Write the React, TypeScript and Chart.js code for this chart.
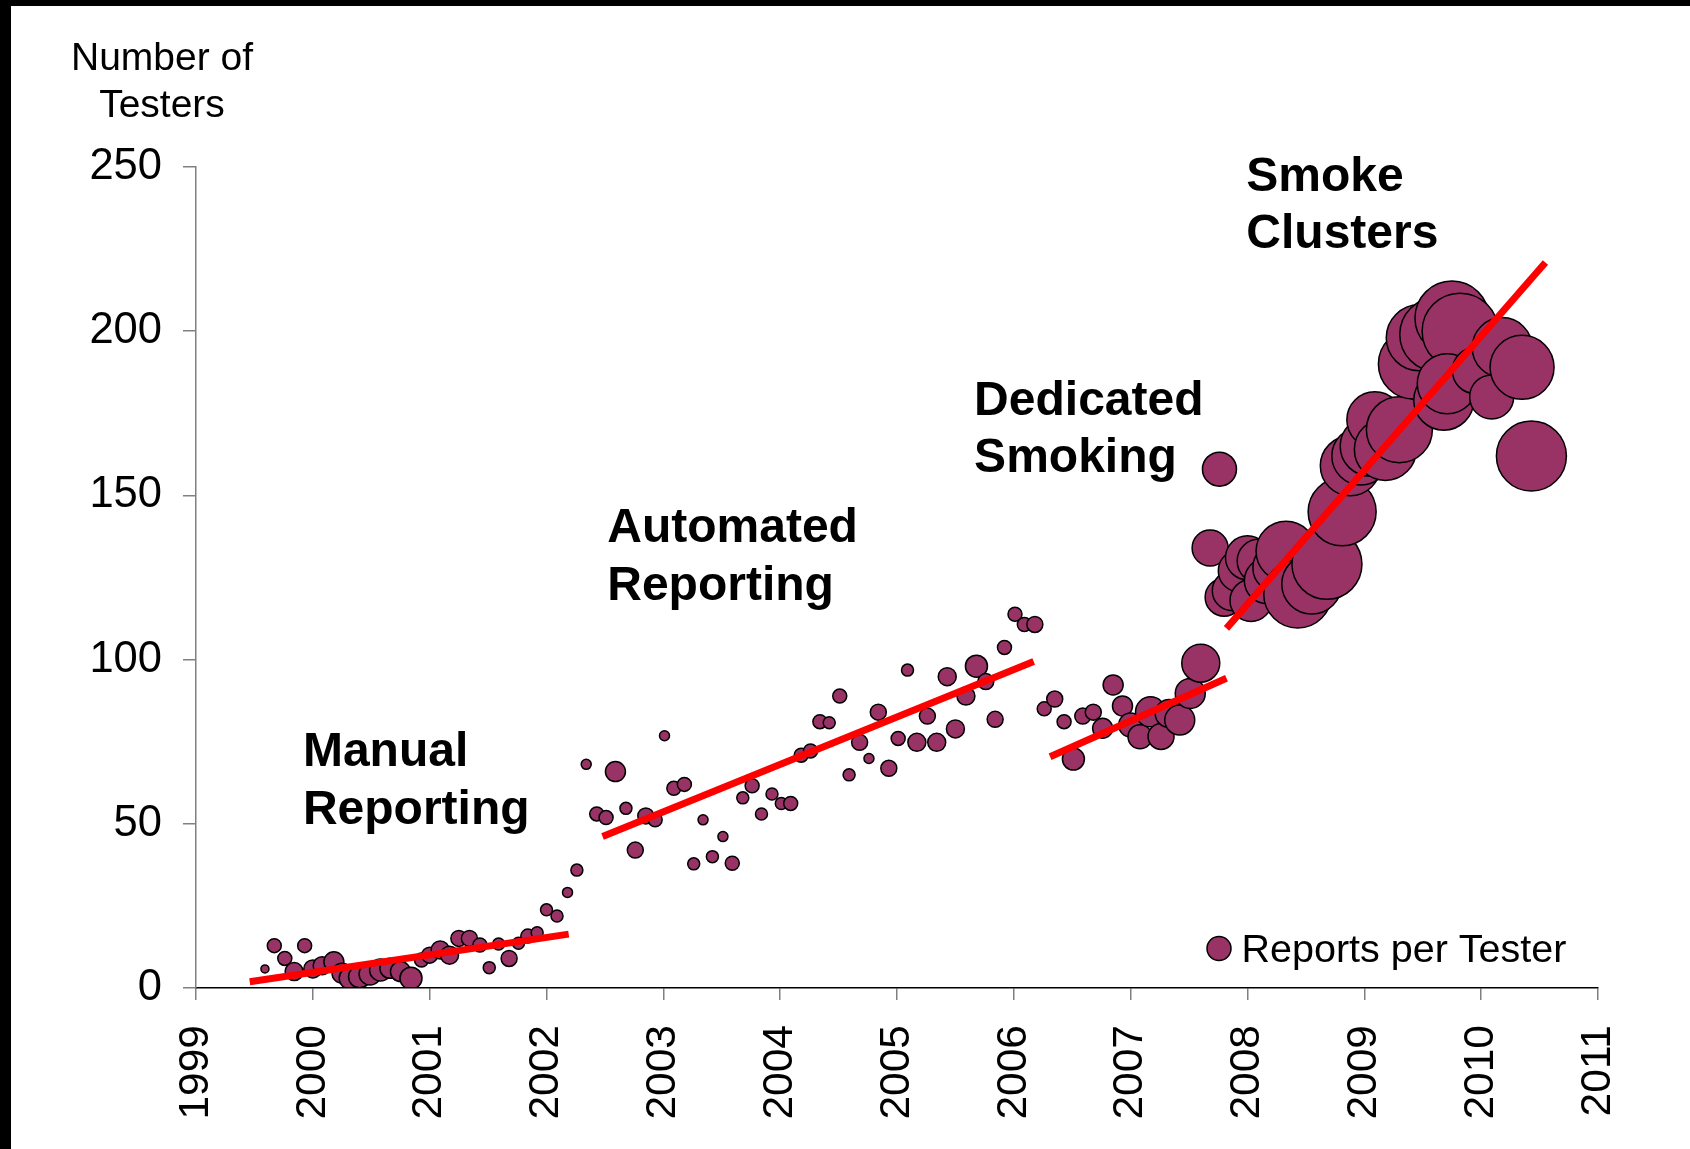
import React, { useEffect, useRef } from "react";
import { Chart, registerables } from "chart.js";

Chart.register(...registerables);

const FONT = "'Liberation Sans', Arial, Helvetica, sans-serif";
const BUBBLE_COLOR = "#993366";

// ---- axis ticks ----
const xTickYears = [1999, 2000, 2001, 2002, 2003, 2004, 2005, 2006, 2007, 2008, 2009, 2010, 2011];
const yTickValues = [0, 50, 100, 150, 200, 250];

// ---- Manual Reporting phase ----
const manualYears = [1999.59, 1999.67, 1999.76, 1999.84, 1999.93, 2000.0, 2000.08, 2000.18, 2000.25, 2000.32, 2000.4, 2000.49, 2000.58, 2000.66, 2000.75, 2000.84, 2000.93, 2001.0, 2001.09, 2001.17, 2001.25, 2001.34, 2001.43, 2001.51, 2001.59, 2001.68, 2001.76, 2001.84, 2001.92, 2002.0, 2002.09, 2002.18, 2002.26];
const manualTesters = [5.8, 12.9, 9.0, 5.0, 12.9, 5.8, 6.8, 8.0, 4.5, 3.0, 3.4, 4.3, 5.5, 6.0, 5.0, 3.0, 8.5, 10.0, 11.6, 10.0, 15.1, 15.1, 13.1, 6.2, 13.4, 9.0, 13.6, 15.8, 16.8, 23.8, 21.9, 29.1, 35.9];
const manualSize = [4, 7, 7, 9, 7, 9, 9, 10, 10, 11, 11, 11, 11, 10, 10, 11, 7, 8, 9, 9, 8, 8, 7, 6, 6, 8, 6, 7, 6, 6, 6, 5, 6];

// ---- Automated Reporting phase ----
const automatedYears = [2002.34, 2002.43, 2002.51, 2002.59, 2002.68, 2002.76, 2002.85, 2002.93, 2003.01, 2003.09, 2003.18, 2003.26, 2003.34, 2003.42, 2003.51, 2003.59, 2003.68, 2003.76, 2003.84, 2003.93, 2004.01, 2004.09, 2004.18, 2004.26, 2004.34, 2004.42, 2004.51, 2004.59, 2004.68, 2004.76, 2004.84, 2004.93, 2005.01, 2005.09, 2005.17, 2005.26, 2005.34, 2005.43, 2005.5, 2005.59, 2005.68, 2005.76, 2005.84, 2005.92, 2006.01, 2006.09, 2006.18];
const automatedTesters = [68.1, 53.0, 51.9, 65.9, 54.7, 42.0, 52.4, 51.2, 76.8, 60.8, 62.0, 37.8, 51.2, 40.0, 46.1, 38.0, 57.9, 61.6, 53.0, 59.1, 56.2, 56.2, 70.9, 72.2, 81.1, 80.8, 88.9, 64.9, 74.8, 69.9, 84.0, 66.9, 76.0, 96.8, 74.8, 82.8, 74.8, 94.8, 78.9, 88.9, 98.0, 93.3, 81.8, 103.7, 113.8, 110.7, 110.7];
const automatedSize = [5, 7, 7, 10, 6, 8, 8, 7, 5, 7, 7, 6, 5, 6, 5, 7, 6, 7, 6, 6, 6, 7, 7, 7, 7, 6, 7, 6, 8, 5, 8, 8, 7, 6, 9, 8, 9, 9, 9, 9, 11, 8, 8, 7, 7, 7, 8];

// ---- Dedicated Smoking phase ----
const dedicatedYears = [2006.26, 2006.35, 2006.43, 2006.51, 2006.59, 2006.68, 2006.76, 2006.85, 2006.93, 2007.0, 2007.08, 2007.17, 2007.26, 2007.33, 2007.42, 2007.51, 2007.6];
const dedicatedTesters = [85.0, 88.0, 81.1, 69.7, 82.8, 84.0, 79.1, 92.3, 85.9, 80.1, 76.5, 84.1, 76.6, 83.6, 81.6, 89.7, 98.9];
const dedicatedSize = [7, 8, 7, 11, 8, 8, 10, 10, 10, 12, 12, 15, 13, 14, 15, 15, 19];

// ---- Smoke Clusters phase ----
const smokeYears = [2007.68, 2007.76, 2007.8, 2007.87, 2007.93, 2008.0, 2008.03, 2008.1, 2008.17, 2008.26, 2008.33, 2008.43, 2008.55, 2008.68, 2008.81, 2008.88, 2008.97, 2009.05, 2009.09, 2009.18, 2009.3, 2009.42, 2009.47, 2009.62, 2009.68, 2009.75, 2009.82, 2009.71, 2009.95, 2010.09, 2010.18, 2010.35, 2010.43];
const smokeTesters = [134, 158, 119, 121, 127, 131, 118, 130, 124, 128, 133, 120, 123, 129, 145, 159, 162, 165, 173, 164, 170, 190, 198, 199, 179, 204, 200, 184, 188, 180, 195, 189, 162];
const smokeSize = [18, 17, 19, 20, 21, 22, 21, 22, 23, 25, 30, 34, 30, 35, 34, 30, 29, 30, 28, 31, 33, 35, 33, 37, 30, 37, 38, 30, 23, 22, 30, 32, 35];

// ---- trend lines (one per phase) ----
const trendStartYear = [1999.46, 2002.48, 2006.31, 2007.82];
const trendEndYear = [2002.19, 2006.17, 2007.82, 2010.55];
const trendStartValue = [1.9, 46.1, 70.4, 109.5];
const trendEndValue = [16.4, 99.4, 94.3, 220.9];

// ---- texts ----
const axisTitleLines = ["Number of", "Testers"];
const legendLabel = "Reports per Tester";
const phaseNames = [
  ["Manual", "Reporting"],
  ["Automated", "Reporting"],
  ["Dedicated", "Smoking"],
  ["Smoke", "Clusters"],
];
const phaseLabelYear = [1999.915, 2002.52, 2005.66, 2007.99];
const phaseLabelValue = [67.6, 135.8, 174.5, 242.7];

function toBubbles(years: number[], testers: number[], sizes: number[]) {
  return years.map((x, i) => ({ x, y: testers[i], r: sizes[i] }));
}

const framePlugin = {
  id: "frame",
  beforeDraw(chart: any) {
    const { ctx, width, height } = chart;
    ctx.save();
    ctx.fillStyle = "#ffffff";
    ctx.fillRect(0, 0, width, height);
    ctx.fillStyle = "#000000";
    ctx.fillRect(0, 0, width, 6);
    ctx.fillRect(0, 0, 11, height);
    ctx.restore();
  },
};

const textPlugin = {
  id: "chartText",
  afterDraw(chart: any) {
    const { ctx, chartArea, scales } = chart;
    const xs = scales.x;
    const ys = scales.y;
    ctx.save();
    ctx.fillStyle = "#000";
    ctx.textBaseline = "alphabetic";

    // y axis title
    ctx.font = `39px ${FONT}`;
    ctx.textAlign = "center";
    const titleX = chartArea.left - 34;
    ctx.fillText(axisTitleLines[0], titleX, chartArea.top - 97);
    ctx.fillText(axisTitleLines[1], titleX, chartArea.top - 50);

    // phase labels
    ctx.font = `bold 48px ${FONT}`;
    ctx.textAlign = "left";
    phaseNames.forEach((lines, i) => {
      const px = xs.getPixelForValue(phaseLabelYear[i]);
      const py = ys.getPixelForValue(phaseLabelValue[i]);
      lines.forEach((t, j) => ctx.fillText(t, px, py + j * 57.5));
    });

    // legend
    const lx = chartArea.right - 379;
    const ly = chartArea.bottom - 39.5;
    ctx.beginPath();
    ctx.arc(lx, ly, 12, 0, Math.PI * 2);
    ctx.fillStyle = BUBBLE_COLOR;
    ctx.fill();
    ctx.lineWidth = 1.5;
    ctx.strokeStyle = "#000";
    ctx.stroke();
    ctx.fillStyle = "#000";
    ctx.font = `39.5px ${FONT}`;
    ctx.textAlign = "left";
    ctx.fillText(legendLabel, lx + 22.5, chartArea.bottom - 26);
    ctx.restore();
  },
};

export default function App() {
  const canvasRef = useRef<HTMLCanvasElement | null>(null);

  useEffect(() => {
    if (!canvasRef.current) return;
    const bubbleData = [
      ...toBubbles(manualYears, manualTesters, manualSize),
      ...toBubbles(automatedYears, automatedTesters, automatedSize),
      ...toBubbles(dedicatedYears, dedicatedTesters, dedicatedSize),
      ...toBubbles(smokeYears, smokeTesters, smokeSize),
    ];
    const trendSets = trendStartYear.map((x0, i) => ({
      type: "line" as const,
      label: "trend" + i,
      data: [
        { x: x0, y: trendStartValue[i] },
        { x: trendEndYear[i], y: trendEndValue[i] },
      ],
      borderColor: "#ff0000",
      borderWidth: 7,
      borderCapStyle: "butt" as const,
      pointRadius: 0,
      pointHoverRadius: 0,
      fill: false,
      tension: 0,
      order: 0,
      clip: false as any,
    }));

    const chart = new Chart(canvasRef.current, {
      type: "bubble",
      data: {
        datasets: [
          {
            type: "bubble",
            label: legendLabel,
            data: bubbleData,
            backgroundColor: BUBBLE_COLOR,
            borderColor: "#000000",
            borderWidth: 1.5,
            hoverRadius: 0,
            order: 1,
            clip: 0 as any,
          } as any,
          ...trendSets,
        ],
      },
      options: {
        responsive: false,
        animation: false,
        devicePixelRatio: 1,
        events: [],
        layout: { padding: { left: 0, top: 167, right: 92, bottom: 0 } },
        plugins: {
          legend: { display: false },
          tooltip: { enabled: false },
          title: { display: false },
        },
        scales: {
          x: {
            type: "linear",
            min: 1999,
            max: 2011,
            afterBuildTicks: (s: any) => {
              s.ticks = xTickYears.map((v) => ({ value: v }));
            },
            afterFit: (s: any) => {
              s.height = 161;
            },
            ticks: {
              autoSkip: false,
              maxRotation: 90,
              minRotation: 90,
              padding: 25,
              color: "#000",
              font: { size: 42.5, family: FONT },
              callback: (v: any) => String(v),
            },
            grid: {
              drawOnChartArea: false,
              drawTicks: true,
              tickLength: 12,
              color: "#808080",
              lineWidth: 1.5,
            },
            border: { display: true, color: "#000", width: 1.5, z: 1 },
          },
          y: {
            type: "linear",
            min: 0,
            max: 250,
            afterBuildTicks: (s: any) => {
              s.ticks = yTickValues.map((v) => ({ value: v }));
            },
            afterFit: (s: any) => {
              s.width = 196;
            },
            ticks: {
              padding: 21,
              color: "#000",
              font: { size: 43.5, family: FONT },
              callback: (v: any) => String(v),
            },
            grid: {
              drawOnChartArea: false,
              drawTicks: true,
              tickLength: 13,
              color: "#808080",
              lineWidth: 1.5,
            },
            border: { display: true, color: "#808080", width: 1.5, z: 1 },
          },
        },
      } as any,
      plugins: [framePlugin, textPlugin],
    });
    return () => chart.destroy();
  }, []);

  return (
    <div style={{ position: "absolute", left: 0, top: 0, width: 1690, height: 1149 }}>
      <canvas ref={canvasRef} width={1690} height={1149} style={{ display: "block" }} />
    </div>
  );
}
